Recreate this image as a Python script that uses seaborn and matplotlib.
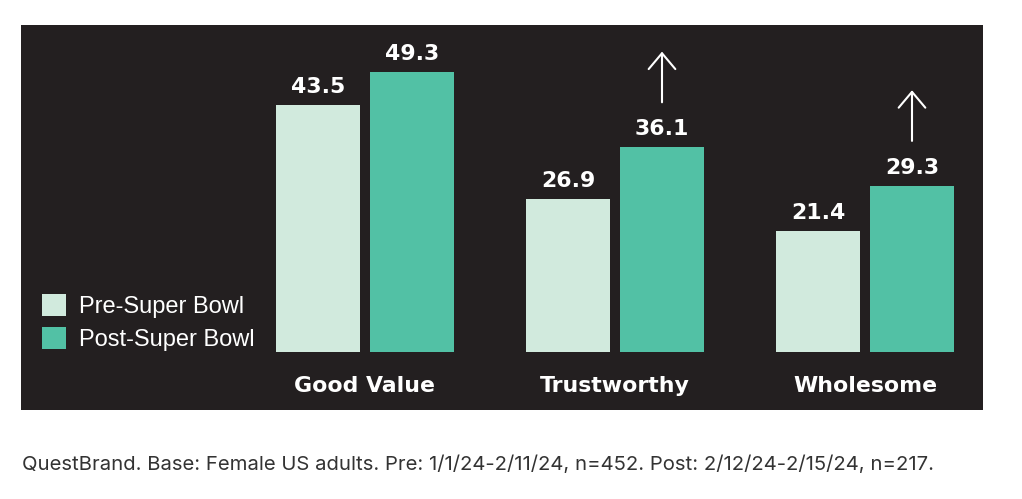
import pandas as pd
import matplotlib.pyplot as plt
import seaborn as sns
from matplotlib.patches import Patch

# Chart values
categories = ['Good Value', 'Trustworthy', 'Wholesome']
pre_values = [43.5, 26.9, 21.4]
post_values = [49.3, 36.1, 29.3]
series_names = ['Pre-Super Bowl', 'Post-Super Bowl']
significant = ['Trustworthy', 'Wholesome']  # categories with an up arrow
caption = 'QuestBrand. Base: Female US adults. Pre: 1/1/24-2/11/24, n=452. Post: 2/12/24-2/15/24, n=217.'

PANEL = '#231f20'
colors = {'Pre-Super Bowl': '#d1eadd', 'Post-Super Bowl': '#52c1a5'}

df = pd.DataFrame({
    'Category': categories * 2,
    'Series': [series_names[0]] * 3 + [series_names[1]] * 3,
    'Value': pre_values + post_values,
})

sns.set_theme(style='white')
plt.rcParams['font.family'] = ['DejaVu Sans']

fig = plt.figure(figsize=(10.22, 4.99), dpi=100)
fig.patch.set_facecolor('white')
ax = fig.add_axes([21 / 1022, 89 / 499, 962 / 1022, 385 / 499])
ax.set_facecolor(PANEL)

sns.barplot(data=df, x='Category', y='Value', hue='Series', order=categories,
            hue_order=series_names, palette=colors, width=0.752, gap=0.106,
            saturation=1, linewidth=0, legend=False, ax=ax)

ax.set_xlim(-1.376, 2.472)
ax.set_ylim(-10.2, 57.6)
for s in ax.spines.values():
    s.set_visible(False)
ax.set_xticks([])
ax.set_yticks([])
ax.set_xlabel('')
ax.set_ylabel('')

offset = 0.188
for i, cat in enumerate(categories):
    for j, vals in enumerate([pre_values, post_values]):
        x = i + (offset if j else -offset)
        ax.text(x, vals[i] + 2.1, f'{vals[i]:.1f}', ha='center', va='baseline',
                color='white', fontsize=15.8, fontweight='bold')
    ax.text(i, -6.0, cat, ha='center', va='center', color='white',
            fontsize=15.8, fontweight='bold')
    if cat in significant:
        x = i + offset
        y0 = post_values[i] + 7.4
        ax.annotate('', xy=(x, y0 + 9.9), xytext=(x, y0),
                    arrowprops=dict(arrowstyle='->,head_length=0.95,head_width=0.8',
                                    color='white', lw=1.5))

handles = [Patch(facecolor=colors[n], edgecolor='none', label=n) for n in series_names]
leg = ax.legend(handles=handles, loc='lower left', bbox_to_anchor=(0.0218, 0.153),
                frameon=False, borderpad=0, borderaxespad=0,
                prop={'family': 'Liberation Sans', 'size': 17},
                handlelength=1.02, handleheight=1.02, handletextpad=0.55,
                labelspacing=0.4)
for t in leg.get_texts():
    t.set_color('white')

fig.text(22 / 1022, 1 - 465 / 499, caption, ha='left', va='center',
         fontsize=14.6, color='#333333', family=['Inter', 'DejaVu Sans'])

fig.savefig('out.png', dpi=100, facecolor='white')
